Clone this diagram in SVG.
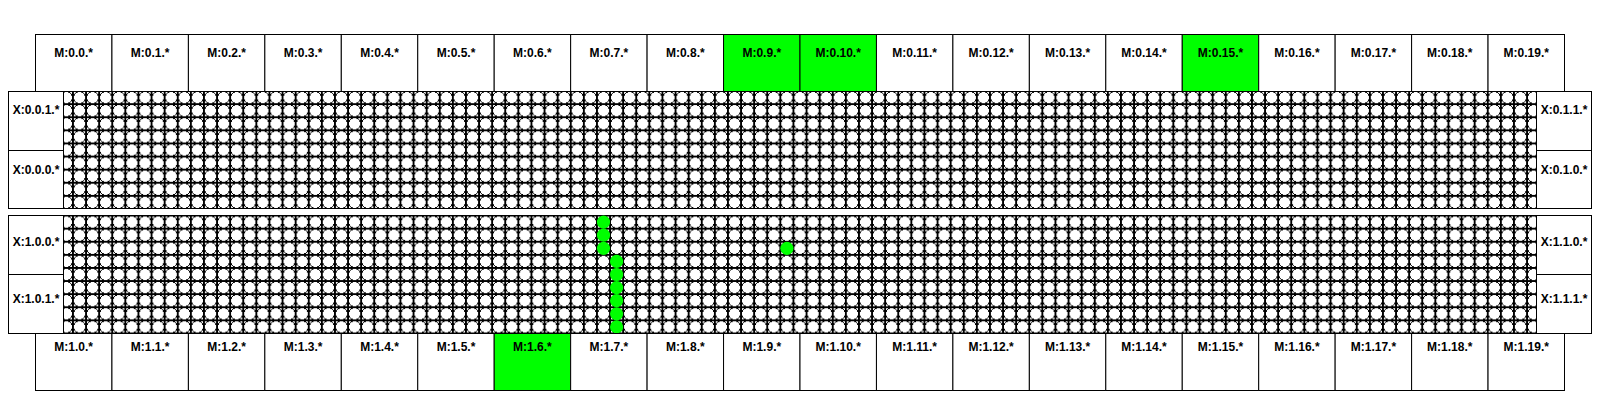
<svg xmlns="http://www.w3.org/2000/svg" width="1600" height="400" viewBox="0 0 1600 400">
<style>
.box{fill:#fff;stroke:#000;stroke-width:1}
.on{fill:#00ff00}
.lbl{font-family:"Liberation Sans",Arial,Helvetica,sans-serif;font-weight:bold;font-size:12px;fill:#000;text-anchor:middle}
.frame{fill:none;stroke:#000;stroke-width:1}
.hit{fill:#00ff00}
</style>
<defs>
<pattern id="cellsA" patternUnits="userSpaceOnUse" x="53.3" y="84.5" width="13.1" height="13.1">
<rect width="13.1" height="13.1" fill="#fff"/>
<path d="M6.55 0V13.1M0 6.55H13.1" stroke="#000" stroke-width="1" shape-rendering="crispEdges"/>
<g fill="#fff" stroke="#000" stroke-width="1" shape-rendering="crispEdges">
<circle cx="0" cy="0" r="6.1"/><circle cx="13.1" cy="0" r="6.1"/><circle cx="0" cy="13.1" r="6.1"/><circle cx="13.1" cy="13.1" r="6.1"/>
</g>
</pattern>
<pattern id="cellsB" href="#cellsA" x="53.3" y="209"/>
</defs>
<rect width="1600" height="400" fill="#fff"/>

<g id="panel0">
<rect x="63.5" y="91.5" width="1473" height="117" fill="url(#cellsA)"/>
<rect class="frame" x="8.5" y="91.5" width="1583" height="117"/>
</g>
<g id="panel1">
<rect x="63.5" y="215.5" width="1473" height="118" fill="url(#cellsB)"/>
<rect class="frame" x="8.5" y="215.5" width="1583" height="118"/>
<g id="active-cells">
<circle class="hit" cx="603.5" cy="222.1" r="6.6"/>
<circle class="hit" cx="603.5" cy="235.2" r="6.6"/>
<circle class="hit" cx="603.5" cy="248.3" r="6.6"/>
<circle class="hit" cx="616.6" cy="261.4" r="6.6"/>
<circle class="hit" cx="616.6" cy="274.5" r="6.6"/>
<circle class="hit" cx="616.6" cy="287.6" r="6.6"/>
<circle class="hit" cx="616.6" cy="300.7" r="6.6"/>
<circle class="hit" cx="616.6" cy="313.8" r="6.6"/>
<circle class="hit" cx="616.6" cy="326.9" r="6.6"/>
<circle class="hit" cx="786.9" cy="248.3" r="6.6"/>
</g>
</g>

<g id="X-0-0-1"><rect class="box" x="8.5" y="91.5" width="55" height="59"/><text class="lbl" x="36" y="114">X:0.0.1.*</text></g>
<g id="X-0-0-0"><rect class="box" x="8.5" y="150.5" width="55" height="58"/><text class="lbl" x="36" y="173.5">X:0.0.0.*</text></g>
<g id="X-0-1-1"><rect class="box" x="1536.5" y="91.5" width="55" height="59"/><text class="lbl" x="1564" y="114">X:0.1.1.*</text></g>
<g id="X-0-1-0"><rect class="box" x="1536.5" y="150.5" width="55" height="58"/><text class="lbl" x="1564" y="173.5">X:0.1.0.*</text></g>
<g id="X-1-0-0"><rect class="box" x="8.5" y="215.5" width="55" height="59"/><text class="lbl" x="36" y="245.5">X:1.0.0.*</text></g>
<g id="X-1-0-1"><rect class="box" x="8.5" y="274.5" width="55" height="59"/><text class="lbl" x="36" y="302.5">X:1.0.1.*</text></g>
<g id="X-1-1-0"><rect class="box" x="1536.5" y="215.5" width="55" height="59"/><text class="lbl" x="1564" y="245.5">X:1.1.0.*</text></g>
<g id="X-1-1-1"><rect class="box" x="1536.5" y="274.5" width="55" height="59"/><text class="lbl" x="1564" y="302.5">X:1.1.1.*</text></g>

<g id="M-0-0"><rect class="box" x="35.5" y="34.5" width="76.45" height="57"/><text class="lbl" x="73.7" y="57">M:0.0.*</text></g>
<g id="M-0-1"><rect class="box" x="111.95" y="34.5" width="76.45" height="57"/><text class="lbl" x="150.2" y="57">M:0.1.*</text></g>
<g id="M-0-2"><rect class="box" x="188.4" y="34.5" width="76.45" height="57"/><text class="lbl" x="226.6" y="57">M:0.2.*</text></g>
<g id="M-0-3"><rect class="box" x="264.85" y="34.5" width="76.45" height="57"/><text class="lbl" x="303.1" y="57">M:0.3.*</text></g>
<g id="M-0-4"><rect class="box" x="341.3" y="34.5" width="76.45" height="57"/><text class="lbl" x="379.5" y="57">M:0.4.*</text></g>
<g id="M-0-5"><rect class="box" x="417.75" y="34.5" width="76.45" height="57"/><text class="lbl" x="456" y="57">M:0.5.*</text></g>
<g id="M-0-6"><rect class="box" x="494.2" y="34.5" width="76.45" height="57"/><text class="lbl" x="532.4" y="57">M:0.6.*</text></g>
<g id="M-0-7"><rect class="box" x="570.65" y="34.5" width="76.45" height="57"/><text class="lbl" x="608.9" y="57">M:0.7.*</text></g>
<g id="M-0-8"><rect class="box" x="647.1" y="34.5" width="76.45" height="57"/><text class="lbl" x="685.3" y="57">M:0.8.*</text></g>
<g id="M-0-9"><rect class="box on" x="723.55" y="34.5" width="76.45" height="57"/><text class="lbl" x="761.8" y="57">M:0.9.*</text></g>
<g id="M-0-10"><rect class="box on" x="800" y="34.5" width="76.45" height="57"/><text class="lbl" x="838.2" y="57">M:0.10.*</text></g>
<g id="M-0-11"><rect class="box" x="876.45" y="34.5" width="76.45" height="57"/><text class="lbl" x="914.7" y="57">M:0.11.*</text></g>
<g id="M-0-12"><rect class="box" x="952.9" y="34.5" width="76.45" height="57"/><text class="lbl" x="991.1" y="57">M:0.12.*</text></g>
<g id="M-0-13"><rect class="box" x="1029.35" y="34.5" width="76.45" height="57"/><text class="lbl" x="1067.6" y="57">M:0.13.*</text></g>
<g id="M-0-14"><rect class="box" x="1105.8" y="34.5" width="76.45" height="57"/><text class="lbl" x="1144" y="57">M:0.14.*</text></g>
<g id="M-0-15"><rect class="box on" x="1182.25" y="34.5" width="76.45" height="57"/><text class="lbl" x="1220.5" y="57">M:0.15.*</text></g>
<g id="M-0-16"><rect class="box" x="1258.7" y="34.5" width="76.45" height="57"/><text class="lbl" x="1296.9" y="57">M:0.16.*</text></g>
<g id="M-0-17"><rect class="box" x="1335.15" y="34.5" width="76.45" height="57"/><text class="lbl" x="1373.4" y="57">M:0.17.*</text></g>
<g id="M-0-18"><rect class="box" x="1411.6" y="34.5" width="76.45" height="57"/><text class="lbl" x="1449.8" y="57">M:0.18.*</text></g>
<g id="M-0-19"><rect class="box" x="1488.05" y="34.5" width="76.45" height="57"/><text class="lbl" x="1526.3" y="57">M:0.19.*</text></g>

<g id="M-1-0"><rect class="box" x="35.5" y="333.5" width="76.45" height="57"/><text class="lbl" x="73.7" y="351">M:1.0.*</text></g>
<g id="M-1-1"><rect class="box" x="111.95" y="333.5" width="76.45" height="57"/><text class="lbl" x="150.2" y="351">M:1.1.*</text></g>
<g id="M-1-2"><rect class="box" x="188.4" y="333.5" width="76.45" height="57"/><text class="lbl" x="226.6" y="351">M:1.2.*</text></g>
<g id="M-1-3"><rect class="box" x="264.85" y="333.5" width="76.45" height="57"/><text class="lbl" x="303.1" y="351">M:1.3.*</text></g>
<g id="M-1-4"><rect class="box" x="341.3" y="333.5" width="76.45" height="57"/><text class="lbl" x="379.5" y="351">M:1.4.*</text></g>
<g id="M-1-5"><rect class="box" x="417.75" y="333.5" width="76.45" height="57"/><text class="lbl" x="456" y="351">M:1.5.*</text></g>
<g id="M-1-6"><rect class="box on" x="494.2" y="333.5" width="76.45" height="57"/><text class="lbl" x="532.4" y="351">M:1.6.*</text></g>
<g id="M-1-7"><rect class="box" x="570.65" y="333.5" width="76.45" height="57"/><text class="lbl" x="608.9" y="351">M:1.7.*</text></g>
<g id="M-1-8"><rect class="box" x="647.1" y="333.5" width="76.45" height="57"/><text class="lbl" x="685.3" y="351">M:1.8.*</text></g>
<g id="M-1-9"><rect class="box" x="723.55" y="333.5" width="76.45" height="57"/><text class="lbl" x="761.8" y="351">M:1.9.*</text></g>
<g id="M-1-10"><rect class="box" x="800" y="333.5" width="76.45" height="57"/><text class="lbl" x="838.2" y="351">M:1.10.*</text></g>
<g id="M-1-11"><rect class="box" x="876.45" y="333.5" width="76.45" height="57"/><text class="lbl" x="914.7" y="351">M:1.11.*</text></g>
<g id="M-1-12"><rect class="box" x="952.9" y="333.5" width="76.45" height="57"/><text class="lbl" x="991.1" y="351">M:1.12.*</text></g>
<g id="M-1-13"><rect class="box" x="1029.35" y="333.5" width="76.45" height="57"/><text class="lbl" x="1067.6" y="351">M:1.13.*</text></g>
<g id="M-1-14"><rect class="box" x="1105.8" y="333.5" width="76.45" height="57"/><text class="lbl" x="1144" y="351">M:1.14.*</text></g>
<g id="M-1-15"><rect class="box" x="1182.25" y="333.5" width="76.45" height="57"/><text class="lbl" x="1220.5" y="351">M:1.15.*</text></g>
<g id="M-1-16"><rect class="box" x="1258.7" y="333.5" width="76.45" height="57"/><text class="lbl" x="1296.9" y="351">M:1.16.*</text></g>
<g id="M-1-17"><rect class="box" x="1335.15" y="333.5" width="76.45" height="57"/><text class="lbl" x="1373.4" y="351">M:1.17.*</text></g>
<g id="M-1-18"><rect class="box" x="1411.6" y="333.5" width="76.45" height="57"/><text class="lbl" x="1449.8" y="351">M:1.18.*</text></g>
<g id="M-1-19"><rect class="box" x="1488.05" y="333.5" width="76.45" height="57"/><text class="lbl" x="1526.3" y="351">M:1.19.*</text></g>

<g id="connectors"/>
</svg>
